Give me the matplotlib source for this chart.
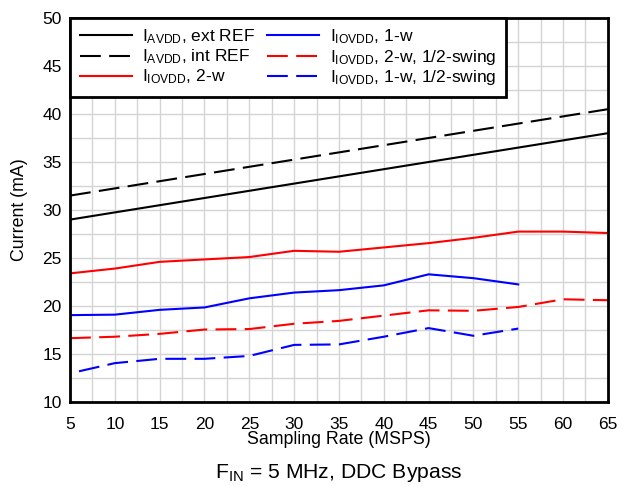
import matplotlib
matplotlib.use("Agg")
import matplotlib.pyplot as plt
from matplotlib.ticker import MultipleLocator

plt.rcParams['font.family'] = ['Liberation Sans', 'DejaVu Sans']
plt.rcParams['mathtext.fontset'] = 'custom'
plt.rcParams['mathtext.rm'] = 'Liberation Sans'
plt.rcParams['mathtext.default'] = 'regular'

# sampling rate (MSPS)
rate_full = [5, 10, 15, 20, 25, 30, 35, 40, 45, 50, 55, 60, 65]
rate_55 = [5, 10, 15, 20, 25, 30, 35, 40, 45, 50, 55]
rate_55b = [6, 10, 15, 20, 25, 30, 35, 40, 45, 50, 55]

# current (mA)
avdd_ext = [29.0, 29.75, 30.5, 31.25, 32.0, 32.75, 33.5, 34.25, 35.0, 35.75, 36.5, 37.25, 38.0]
avdd_int = [31.5, 32.25, 33.0, 33.75, 34.5, 35.25, 36.0, 36.75, 37.5, 38.25, 39.0, 39.75, 40.5]
iovdd_2w = [23.4, 23.9, 24.6, 24.85, 25.1, 25.75, 25.65, 26.1, 26.55, 27.1, 27.75, 27.75, 27.6]
iovdd_1w = [19.05, 19.1, 19.6, 19.85, 20.8, 21.4, 21.65, 22.15, 23.3, 22.9, 22.25]
iovdd_2w_half = [16.65, 16.8, 17.1, 17.55, 17.6, 18.15, 18.45, 19.0, 19.55, 19.5, 19.9, 20.7, 20.6]
iovdd_1w_half = [13.2, 14.05, 14.5, 14.5, 14.8, 15.95, 16.0, 16.8, 17.7, 16.9, 17.65]

fig = plt.figure(figsize=(6.28, 4.86), dpi=100)
ax = fig.add_axes([0.1115, 0.1728, 0.8565, 0.7902])

dash = (10, 4)
ax.plot(rate_full, avdd_ext, color='black', lw=1.5, label=r'I$_{AVDD}$, ext REF')
ax.plot(rate_full, avdd_int, color='black', lw=1.5, dashes=dash, label=r'I$_{AVDD}$, int REF')
ax.plot(rate_full, iovdd_2w, color='#ff0000', lw=1.5, label=r'I$_{IOVDD}$, 2-w')
ax.plot(rate_55, iovdd_1w, color='#0000ff', lw=1.5, label=r'I$_{IOVDD}$, 1-w')
ax.plot(rate_full, iovdd_2w_half, color='#ff0000', lw=1.5, dashes=dash,
        label=r'I$_{IOVDD}$, 2-w, 1/2-swing')
ax.plot(rate_55b, iovdd_1w_half, color='#0000ff', lw=1.5, dashes=dash,
        label=r'I$_{IOVDD}$, 1-w, 1/2-swing')

ax.set_xlim(5, 65)
ax.set_ylim(10, 50)
ax.xaxis.set_major_locator(MultipleLocator(5))
ax.yaxis.set_major_locator(MultipleLocator(5))
ax.xaxis.set_minor_locator(MultipleLocator(2.5))
ax.yaxis.set_minor_locator(MultipleLocator(2.5))
ax.grid(which='both', color='#d4d4d4', lw=1.0)
ax.set_axisbelow(True)
ax.tick_params(which='both', length=0, labelsize=12.5)
ax.tick_params(axis='x', pad=11)
ax.tick_params(axis='y', pad=6)
for s in ax.spines.values():
    s.set_linewidth(2)

ax.set_xlabel('Sampling Rate (MSPS)', fontsize=12.8, labelpad=-1)
ax.set_ylabel('Current (mA)', fontsize=12.8, labelpad=10)

leg = ax.legend(loc='upper left', ncol=2, fontsize=12.5, handlelength=3.0,
                frameon=True, fancybox=False, borderaxespad=0,
                labelspacing=0.08, columnspacing=0.7, handletextpad=0.6,
                borderpad=0.55)
leg.get_frame().set_edgecolor('black')
leg.get_frame().set_linewidth(2)
leg.get_frame().set_alpha(1)

fig.text(0.54, 0.027, r'F$_{IN}$ = 5 MHz, DDC Bypass', ha='center', va='center',
         fontsize=15.2)

fig.savefig('out.png', dpi=100)
